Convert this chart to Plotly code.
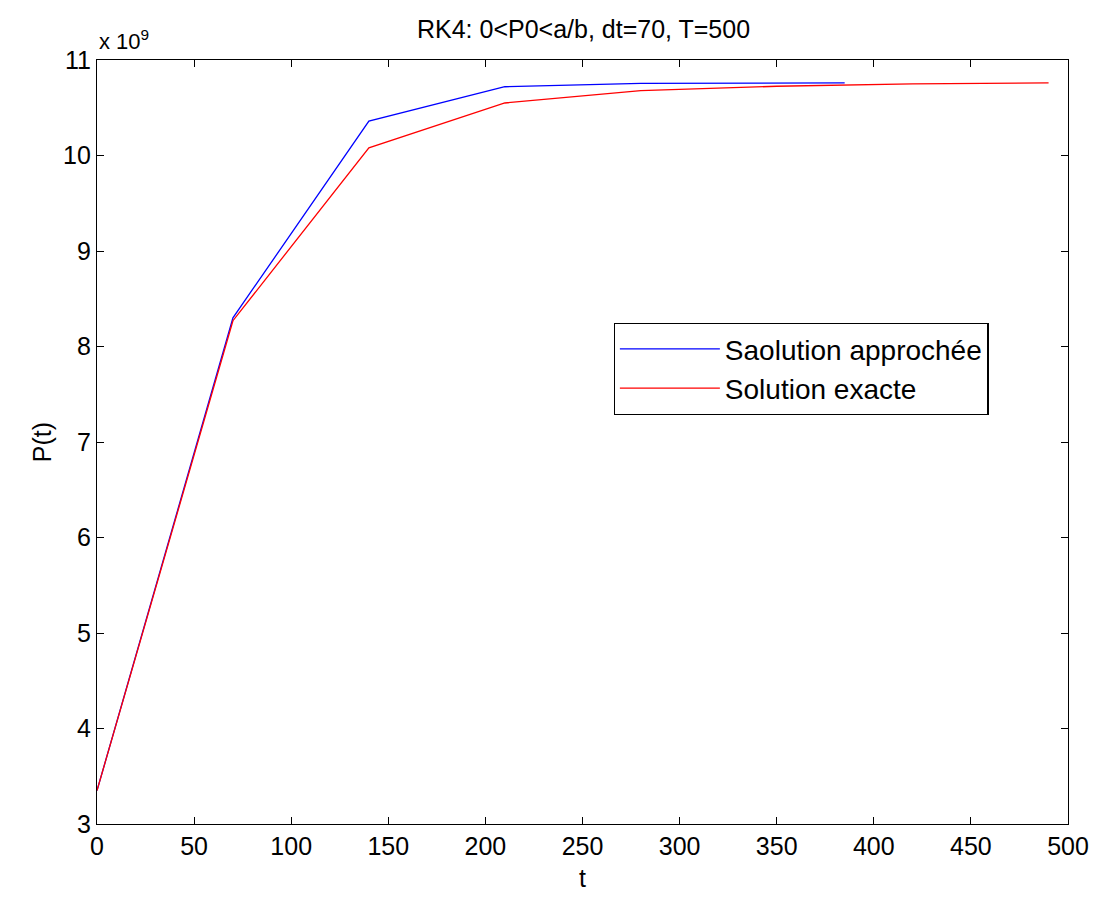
import plotly.graph_objects as go

# Data (P in units of 1e9, displayed with x10^9 multiplier)
t_approx = [0, 70, 140, 210, 280, 350, 385]
p_approx = [3.35, 8.30, 10.36, 10.72, 10.755, 10.76, 10.76]
t_exact = [0, 70, 140, 210, 280, 350, 420, 490]
p_exact = [3.35, 8.27, 10.08, 10.55, 10.68, 10.725, 10.75, 10.76]

x_ticks = [0, 50, 100, 150, 200, 250, 300, 350, 400, 450, 500]
y_ticks = [3, 4, 5, 6, 7, 8, 9, 10, 11]

scale = 1e9
fig = go.Figure()
fig.add_trace(go.Scatter(x=t_approx, y=[v * scale for v in p_approx], mode="lines",
                         line=dict(color="#0000ff", width=1.3), name="Saolution approchée"))
fig.add_trace(go.Scatter(x=t_exact, y=[v * scale for v in p_exact], mode="lines",
                         line=dict(color="#ff0000", width=1.3), name="Solution exacte"))

tickfont = dict(family="Liberation Sans, Arial, sans-serif", size=25, color="#000")
fig.update_layout(
    width=1101, height=904,
    margin=dict(l=97, r=27, t=60, b=80),
    paper_bgcolor="white", plot_bgcolor="white",
    showlegend=True,
    legend=dict(x=0.532, y=0.656, xanchor="left", yanchor="top",
                bordercolor="black", borderwidth=1.3, bgcolor="white",
                font=dict(family="Liberation Sans, Arial, sans-serif", size=28, color="#000"),
                itemwidth=100, tracegroupgap=0),
    title=dict(text="RK4: 0<P0<a/b, dt=70, T=500", x=0.53, xanchor="center",
               y=0.968, yanchor="middle",
               font=dict(family="Liberation Sans, Arial, sans-serif", size=25, color="#000")),
)
fig.update_xaxes(range=[0, 500], tickvals=x_ticks, ticktext=[str(v) for v in x_ticks],
                 ticks="inside", ticklen=7, tickcolor="black", showline=True,
                 linecolor="black", linewidth=1.3, mirror="ticks", showgrid=False,
                 zeroline=False, tickfont=tickfont,
                 title=dict(text="t", font=tickfont, standoff=10))
fig.update_yaxes(range=[3 * scale, 11 * scale], tickvals=[v * scale for v in y_ticks],
                 ticktext=[str(v) for v in y_ticks],
                 ticks="inside", ticklen=7, tickcolor="black", showline=True,
                 linecolor="black", linewidth=1.3, mirror="ticks", showgrid=False,
                 zeroline=False, tickfont=tickfont,
                 title=dict(text="P(t)", font=tickfont, standoff=4))
fig.add_annotation(xref="paper", yref="paper", x=0.0, y=1.0, xanchor="left", yanchor="bottom",
                   yshift=4, text="x 10<sup>9</sup>", showarrow=False,
                   font=dict(family="Liberation Sans, Arial, sans-serif", size=22, color="#000"))
fig.write_html("out.html")
